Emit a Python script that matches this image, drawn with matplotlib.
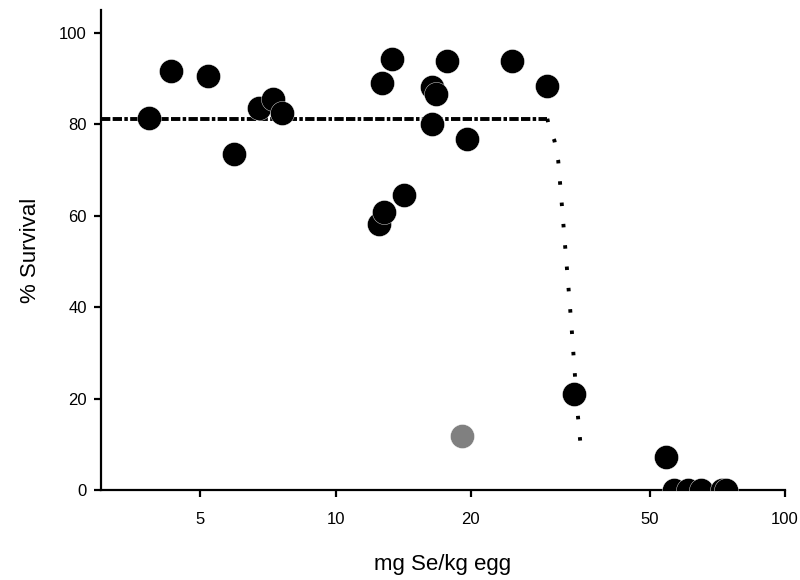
import matplotlib
matplotlib.use("Agg")
import matplotlib.pyplot as plt
from matplotlib.ticker import FixedLocator, FixedFormatter, NullLocator

plt.rcParams['font.family'] = ['Liberation Sans', 'DejaVu Sans']

# Observed survival (black points)
se_conc = [3.85, 4.29, 5.19, 5.93, 6.75, 7.25, 7.59,
           12.49, 12.83, 14.2, 12.66, 13.33,
           16.42, 16.77, 16.37, 19.62, 17.7, 24.66, 29.5,
           34.0, 54.4, 56.8, 60.8, 65.1, 72.3, 73.8]
survival = [81.4, 91.7, 90.6, 73.5, 83.6, 85.6, 82.5,
            58.1, 60.7, 64.6, 89.0, 94.2,
            88.1, 86.7, 80.1, 76.7, 93.9, 93.9, 88.3,
            21.0, 7.2, 0, 0, 0, 0, 0]

# Excluded point (gray)
gray_conc = [19.15]
gray_surv = [11.8]

# Fitted threshold model: flat part and drop-off part
flat_x = [3.0, 29.6]
flat_y = [81.2, 81.2]
drop_x = [29.6, 29.9, 30.7, 31.3, 31.85, 32.4, 32.95, 33.5, 34.0, 34.5, 35.2]
drop_y = [81.2, 79.2, 76.4, 72.0, 63.0, 53.8, 44.9, 35.9, 26.9, 17.9, 8.5]

x_ticks = [5, 10, 20, 50, 100]
x_tick_labels = ['5', '10', '20', '50', '100']
y_ticks = [0, 20, 40, 60, 80, 100]

fig = plt.figure(figsize=(8, 5.8), dpi=100)
ax = fig.add_axes([0.126, 0.155, 0.855, 0.828])

ax.plot(flat_x, flat_y, color='black', lw=2.8, dashes=(2.4, 0.6, 2.4, 0.6, 0.9, 0.6),
        solid_capstyle='butt', dash_capstyle='butt', zorder=2)
ax.plot(drop_x, drop_y, color='black', lw=2.8, dashes=(0.9, 4.6),
        dash_capstyle='butt', zorder=2)

ax.scatter(se_conc, survival, s=300, color='black', edgecolors='white',
           linewidths=0.3, zorder=3)
ax.scatter(gray_conc, gray_surv, s=300, color='#808080', edgecolors='white',
           linewidths=0.3, zorder=3)

ax.set_xscale('log')
ax.set_xlim(3, 100)
ax.set_ylim(0, 105)
ax.xaxis.set_major_locator(FixedLocator(x_ticks))
ax.xaxis.set_major_formatter(FixedFormatter(x_tick_labels))
ax.xaxis.set_minor_locator(NullLocator())
ax.set_yticks(y_ticks)

for s in ['top', 'right']:
    ax.spines[s].set_visible(False)
for s in ['left', 'bottom']:
    ax.spines[s].set_linewidth(1.6)

ax.tick_params(axis='both', direction='out', length=5, width=1.6, labelsize=12)
ax.tick_params(axis='x', pad=11)
ax.tick_params(axis='y', pad=5)

ax.set_xlabel('mg Se/kg egg', fontsize=16, labelpad=19)
ax.set_ylabel('% Survival', fontsize=16, labelpad=13)

fig.savefig('out.png', dpi=100)
